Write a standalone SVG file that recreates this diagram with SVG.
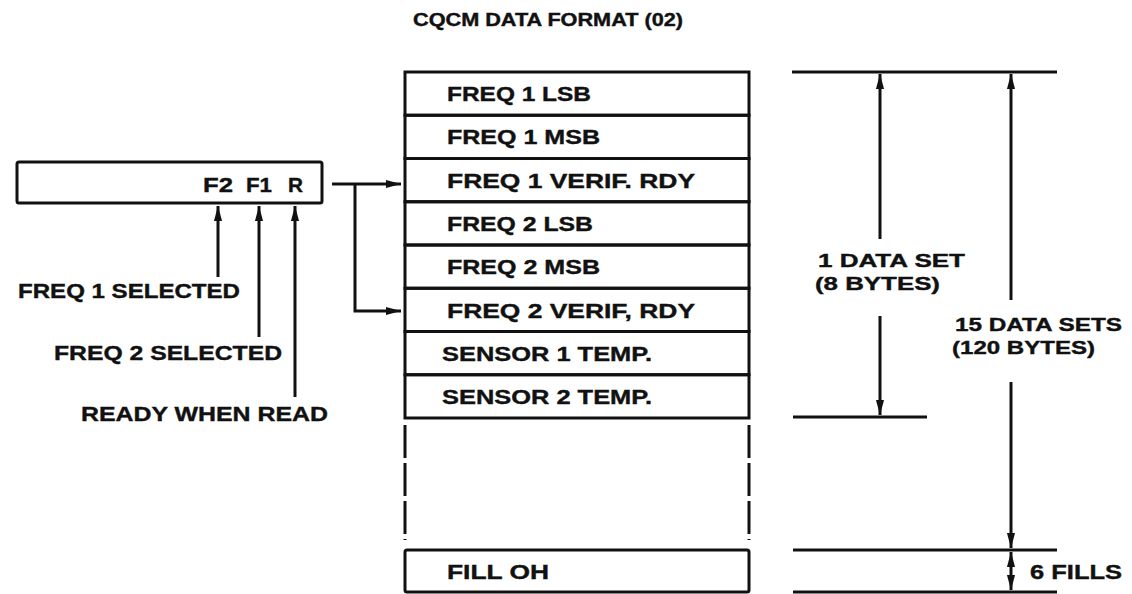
<svg xmlns="http://www.w3.org/2000/svg" width="1132" height="594" viewBox="0 0 1132 594">
<style>
text{font-family:"Liberation Sans",Arial,sans-serif;font-weight:bold;fill:#111;stroke:#111;stroke-width:0.4;}
.t{font-size:21px;}
.d{font-size:19px;}
.ttl{font-size:18px;}
.box{fill:none;stroke:#111;stroke-width:3;}
.ln{fill:none;stroke:#111;stroke-width:3;}
.dl{fill:none;stroke:#111;stroke-width:3;stroke-dasharray:33 5;}
</style>
<defs>
<marker id="ah" viewBox="0 0 10 10" refX="10" refY="5" markerWidth="5" markerHeight="5" orient="auto-start-reverse" markerUnits="strokeWidth">
<path d="M0,2.3 L10,5 L0,7.7 Z" fill="#111"/>
</marker>
</defs>
<rect width="1132" height="594" fill="#fff"/>
<text class="ttl" x="413" y="26" textLength="270" lengthAdjust="spacingAndGlyphs">CQCM DATA FORMAT (02)</text>

<g id="reg">
<rect class="box" x="17" y="162" width="305" height="41" rx="2"/>
<text class="t" x="203" y="192" textLength="30" lengthAdjust="spacingAndGlyphs">F2</text>
<text class="t" x="246" y="192" textLength="26" lengthAdjust="spacingAndGlyphs">F1</text>
<text class="t" x="288" y="192" textLength="15" lengthAdjust="spacingAndGlyphs">R</text>
</g>

<g id="row1"><rect class="box" x="405" y="72" width="344" height="43.25"/><text class="t" x="447" y="101" textLength="144" lengthAdjust="spacingAndGlyphs">FREQ 1 LSB</text></g>
<g id="row2"><rect class="box" x="405" y="115.25" width="344" height="43.25"/><text class="t" x="447" y="144" textLength="153" lengthAdjust="spacingAndGlyphs">FREQ 1 MSB</text></g>
<g id="row3"><rect class="box" x="405" y="158.5" width="344" height="43.25"/><text class="t" x="447" y="188" textLength="248" lengthAdjust="spacingAndGlyphs">FREQ 1 VERIF. RDY</text></g>
<g id="row4"><rect class="box" x="405" y="201.75" width="344" height="43.25"/><text class="t" x="447" y="231" textLength="146" lengthAdjust="spacingAndGlyphs">FREQ 2 LSB</text></g>
<g id="row5"><rect class="box" x="405" y="245" width="344" height="43.25"/><text class="t" x="447" y="274" textLength="153" lengthAdjust="spacingAndGlyphs">FREQ 2 MSB</text></g>
<g id="row6"><rect class="box" x="405" y="288.25" width="344" height="43.25"/><text class="t" x="447" y="318" textLength="248" lengthAdjust="spacingAndGlyphs">FREQ 2 VERIF, RDY</text></g>
<g id="row7"><rect class="box" x="405" y="331.5" width="344" height="43.25"/><text class="t" x="442" y="361" textLength="210" lengthAdjust="spacingAndGlyphs">SENSOR 1 TEMP.</text></g>
<g id="row8"><rect class="box" x="405" y="374.75" width="344" height="43.25"/><text class="t" x="442" y="404" textLength="210" lengthAdjust="spacingAndGlyphs">SENSOR 2 TEMP.</text></g>
<g id="gap">
<line class="dl" x1="405" y1="425" x2="405" y2="540"/>
<line class="dl" x1="749" y1="425" x2="749" y2="540"/>
</g>
<g id="fill"><rect class="box" x="405" y="550" width="344" height="42" rx="2"/><text class="t" x="447" y="579" textLength="102" lengthAdjust="spacingAndGlyphs">FILL OH</text></g>

<g id="labels">
<text class="t" x="18" y="298" textLength="222" lengthAdjust="spacingAndGlyphs">FREQ 1 SELECTED</text>
<text class="t" x="54" y="360" textLength="228" lengthAdjust="spacingAndGlyphs">FREQ 2 SELECTED</text>
<text class="t" x="81" y="421" textLength="247" lengthAdjust="spacingAndGlyphs">READY WHEN READ</text>
<text class="d" x="818" y="267" textLength="147" lengthAdjust="spacingAndGlyphs">1 DATA SET</text>
<text class="d" x="815" y="290" textLength="125" lengthAdjust="spacingAndGlyphs">(8 BYTES)</text>
<text class="d" x="955" y="331" textLength="167" lengthAdjust="spacingAndGlyphs">15 DATA SETS</text>
<text class="d" x="952" y="354" textLength="143" lengthAdjust="spacingAndGlyphs">(120 BYTES)</text>
<text class="t" x="1030" y="579" textLength="92" lengthAdjust="spacingAndGlyphs">6 FILLS</text>
</g>

<g id="connectors">
<line class="ln" x1="218" y1="277" x2="218" y2="206" marker-end="url(#ah)"/>
<line class="ln" x1="259" y1="337" x2="259" y2="206" marker-end="url(#ah)"/>
<line class="ln" x1="295" y1="397" x2="295" y2="206" marker-end="url(#ah)"/>
<line class="ln" x1="332" y1="184" x2="401" y2="184" marker-end="url(#ah)"/>
<polyline class="ln" points="355,184 355,311 401,311" marker-end="url(#ah)"/>
<line class="ln" x1="792" y1="72" x2="1057" y2="72"/>
<line class="ln" x1="793" y1="417" x2="927" y2="417"/>
<line class="ln" x1="793" y1="550" x2="1057" y2="550"/>
<line class="ln" x1="793" y1="592" x2="1057" y2="592"/>
<line class="ln" x1="880" y1="239" x2="880" y2="74" marker-end="url(#ah)"/>
<line class="ln" x1="880" y1="316" x2="880" y2="415" marker-end="url(#ah)"/>
<line class="ln" x1="1011" y1="300" x2="1011" y2="74" marker-end="url(#ah)"/>
<line class="ln" x1="1011" y1="382" x2="1011" y2="548" marker-end="url(#ah)"/>
<line class="ln" x1="1011" y1="552" x2="1011" y2="590" marker-start="url(#ah)" marker-end="url(#ah)"/>
</g>
</svg>
